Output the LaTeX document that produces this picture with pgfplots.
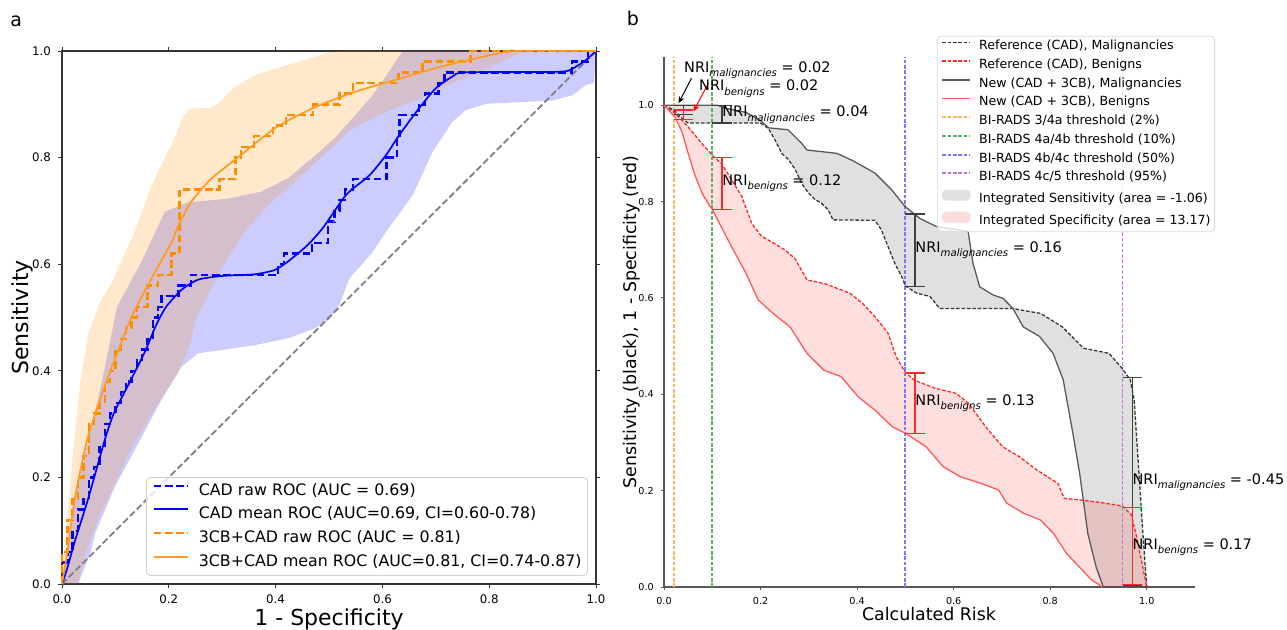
\documentclass[border=0pt]{standalone}
\usepackage{fontspec}
\setmainfont{DejaVu Sans}
\usepackage{pgfplots}
\pgfplotsset{compat=1.18}
\usepgfplotslibrary{fillbetween}
\usetikzlibrary{arrows.meta}

\definecolor{cadblue}{RGB}{0,0,255}
\definecolor{cadmean}{RGB}{0,0,255}
\definecolor{cborange}{RGB}{255,140,0}
\definecolor{cbmean}{RGB}{255,155,35}
\definecolor{diag}{RGB}{128,128,128}
\definecolor{refm}{RGB}{55,55,55}
\definecolor{newm}{RGB}{90,90,90}
\definecolor{refb}{RGB}{255,40,40}
\definecolor{newb}{RGB}{255,90,90}
\definecolor{thA}{RGB}{255,180,95}
\definecolor{thB}{RGB}{90,180,90}
\definecolor{thC}{RGB}{120,120,255}
\definecolor{thD}{RGB}{190,120,212}
\definecolor{pinkpatch}{RGB}{255,220,220}

\newcommand\nri[2]{NRI\raisebox{-0.3em}{\fontsize{5.1}{6}\selectfont\itshape #1} = #2}

\begin{document}
\begin{tikzpicture}

% ---------------- panel a ----------------
\begin{axis}[
  at={(31pt,22.5pt)}, anchor=south west,
  width=267pt, height=266.5pt, scale only axis,
  xmin=0, xmax=1, ymin=0, ymax=1,
  xtick={0,0.2,0.4,0.6,0.8,1}, ytick={0,0.2,0.4,0.6,0.8,1},
  tick align=outside, major tick length=2pt,
  tick style={black!80, line width=0.5pt},
  axis line style={black!80, line width=0.6pt},
  tick label style={font=\fontsize{5.9}{6.5}\selectfont},
  /pgf/number format/fixed, /pgf/number format/fixed zerofill,
  /pgf/number format/precision=1, /pgf/number format/assume math mode=true,
  set layers, clip=false,
  legend cell align=left,
  legend image code/.code={\draw[#1] (0pt,2.7pt) -- (17pt,2.7pt);},
  legend style={at={(0.985,0.015)}, anchor=south east,
    font=\fontsize{7.9}{9}\selectfont, draw=black!18, rounded corners=2pt,
    fill=white, fill opacity=0.8, draw opacity=1, text opacity=1,
    inner xsep=3pt, inner ysep=2.8pt, row sep=3.8pt, column sep=5pt,
    nodes={inner sep=0pt, text height=6pt, text depth=2pt}},
]
% CI bands
\addplot[draw=none, name path=bu, forget plot] coordinates {
(0,0) (0.006,0.045) (0.024,0.157) (0.049,0.27) (0.074,0.377) (0.093,0.47)
(0.103,0.52) (0.149,0.605) (0.1925,0.6985) (0.236,0.716) (0.311,0.723)
(0.373,0.736) (0.423,0.761) (0.467,0.798) (0.51,0.836) (0.545,0.875)
(0.58,0.915) (0.61,0.958) (0.638,1.0) (1,1)};
\addplot[draw=none, name path=bl, forget plot] coordinates {
(0,0) (0.03,0) (0.054,0.06) (0.062,0.095) (0.099,0.1825) (0.143,0.264)
(0.186,0.345) (0.224,0.408) (0.255,0.433) (0.2985,0.439) (0.361,0.448)
(0.423,0.461) (0.47,0.478) (0.50,0.495) (0.52,0.525) (0.538,0.573)
(0.582,0.623) (0.607,0.661) (0.657,0.73) (0.694,0.811) (0.731,0.867)
(0.756,0.889) (0.794,0.901) (0.918,0.907) (0.956,0.917) (0.981,0.936)
(0.996,0.94) (1,1)};
\addplot[fill=cadblue, fill opacity=0.2, draw=none, forget plot] fill between[of=bu and bl];
\addplot[draw=none, name path=ou, forget plot] coordinates {
(0,0) (0.003,0.05) (0.012,0.145) (0.021,0.25) (0.034,0.377) (0.049,0.47)
(0.072,0.53) (0.093,0.565) (0.136,0.661) (0.168,0.749) (0.205,0.824)
(0.227,0.877) (0.239,0.892) (0.277,0.893) (0.292,0.901) (0.323,0.932)
(0.361,0.955) (0.423,0.974) (0.473,0.989) (0.504,0.998) (0.52,1.0) (1,1)};
\addplot[draw=none, name path=ol, forget plot] coordinates {
(0,0) (0.03,0) (0.045,0.06) (0.069,0.126) (0.1,0.19) (0.128,0.251)
(0.172,0.326) (0.217,0.395) (0.24,0.45) (0.252,0.50) (0.2985,0.592)
(0.342,0.661) (0.392,0.717) (0.4355,0.754) (0.482,0.797) (0.5445,0.855)
(0.607,0.886) (0.669,0.91) (0.731,0.94) (0.794,0.965) (0.856,0.995)
(0.87,1) (1,1)};
\addplot[fill=cborange, fill opacity=0.2, draw=none, forget plot] fill between[of=ou and ol];
% chance line
\addplot[diag, line width=0.9pt, dash pattern=on 3.3pt off 1.5pt, forget plot]
  coordinates {(0,0) (1,1)};
% CAD raw ROC
\addplot[cadblue, line width=1.2pt, dash pattern=on 3.8pt off 1.8pt, forget plot] coordinates {
(0,0) (0,0.04) (0.01,0.04) (0.01,0.06) (0.02,0.06) (0.02,0.10) (0.03,0.10)
(0.03,0.14) (0.04,0.14) (0.04,0.16) (0.05,0.16) (0.05,0.20) (0.06,0.20)
(0.06,0.22) (0.07,0.22) (0.07,0.26) (0.08,0.26) (0.08,0.30) (0.09,0.30)
(0.09,0.32) (0.10,0.32) (0.10,0.34) (0.11,0.34) (0.11,0.36) (0.12,0.36)
(0.12,0.38) (0.13,0.38) (0.13,0.40) (0.14,0.40) (0.14,0.42) (0.15,0.42)
(0.15,0.44) (0.16,0.44) (0.16,0.46) (0.17,0.46) (0.17,0.50) (0.18,0.50)
(0.18,0.52) (0.186,0.52) (0.186,0.54) (0.218,0.54) (0.218,0.56) (0.242,0.56)
(0.242,0.58) (0.405,0.58) (0.405,0.60) (0.416,0.60) (0.416,0.62) (0.468,0.62)
(0.468,0.64) (0.498,0.64) (0.498,0.68) (0.51,0.68) (0.51,0.70) (0.52,0.70)
(0.52,0.72) (0.53,0.72) (0.53,0.74) (0.545,0.74) (0.545,0.76) (0.608,0.76)
(0.608,0.80) (0.627,0.80) (0.627,0.84) (0.632,0.84) (0.632,0.88) (0.668,0.88)
(0.668,0.90) (0.68,0.90) (0.68,0.92) (0.705,0.92) (0.705,0.94) (0.716,0.94)
(0.716,0.96) (0.955,0.96) (0.955,0.98) (0.985,0.98) (0.985,1.0) (1,1)};
% CAD mean ROC
\addplot[cadmean, line width=0.85pt, smooth, tension=0.4, forget plot] coordinates {
(0,0) (0.01,0.03) (0.024,0.08) (0.049,0.16) (0.08,0.27) (0.097,0.32)
(0.125,0.375) (0.155,0.435) (0.176,0.485) (0.195,0.52) (0.224,0.552)
(0.255,0.571) (0.30,0.578) (0.36,0.581) (0.398,0.589) (0.423,0.605)
(0.46,0.636) (0.49,0.67) (0.532,0.73) (0.576,0.767) (0.607,0.805)
(0.632,0.843) (0.669,0.893) (0.70,0.93) (0.731,0.952) (0.756,0.96)
(0.93,0.961) (0.956,0.967) (0.981,0.983) (1,1)};
% 3CB+CAD raw ROC
\addplot[cborange, line width=1.2pt, dash pattern=on 3.8pt off 1.8pt, forget plot] coordinates {
(0,0) (0,0.06) (0.01,0.06) (0.01,0.12) (0.02,0.12) (0.02,0.16) (0.03,0.16)
(0.03,0.20) (0.04,0.20) (0.04,0.24) (0.05,0.24) (0.05,0.30) (0.06,0.30)
(0.06,0.32) (0.07,0.32) (0.07,0.34) (0.08,0.34) (0.08,0.38) (0.09,0.38)
(0.09,0.40) (0.10,0.40) (0.10,0.44) (0.11,0.44) (0.11,0.46) (0.12,0.46)
(0.12,0.48) (0.13,0.48) (0.13,0.50) (0.14,0.50) (0.14,0.52) (0.16,0.52)
(0.16,0.56) (0.18,0.56) (0.18,0.58) (0.205,0.58) (0.205,0.62) (0.22,0.62)
(0.22,0.74) (0.295,0.74) (0.295,0.76) (0.325,0.76) (0.325,0.80) (0.335,0.80)
(0.335,0.82) (0.36,0.82) (0.36,0.84) (0.395,0.84) (0.395,0.86) (0.42,0.86)
(0.42,0.88) (0.47,0.88) (0.47,0.90) (0.52,0.90) (0.52,0.92) (0.545,0.92)
(0.545,0.94) (0.63,0.94) (0.63,0.96) (0.675,0.96) (0.675,0.98) (0.765,0.98)
(0.765,1.0) (1,1)};
% 3CB+CAD mean ROC
\addplot[cbmean, line width=0.85pt, smooth, tension=0.4, forget plot] coordinates {
(0,0) (0.005,0.03) (0.01,0.06) (0.024,0.16) (0.047,0.27) (0.076,0.36)
(0.106,0.44) (0.132,0.505) (0.18,0.596) (0.205,0.64) (0.217,0.67)
(0.24,0.714) (0.277,0.758) (0.329,0.80) (0.403,0.858) (0.477,0.896)
(0.551,0.924) (0.625,0.946) (0.70,0.968) (0.774,0.986) (0.85,1.0) (1,1)};

\addlegendimage{cadblue, line width=1.2pt, dash pattern=on 3.8pt off 1.8pt}
\addlegendentry{CAD raw ROC (AUC = 0.69)}
\addlegendimage{cadmean, line width=1pt}
\addlegendentry{CAD mean ROC (AUC=0.69, CI=0.60-0.78)}
\addlegendimage{cborange, line width=1.2pt, dash pattern=on 3.8pt off 1.8pt}
\addlegendentry{3CB+CAD raw ROC (AUC = 0.81)}
\addlegendimage{cbmean, line width=1pt}
\addlegendentry{3CB+CAD mean ROC (AUC=0.81, CI=0.74-0.87)}
\end{axis}

% ---------------- panel b ----------------
\begin{axis}[
  at={(332pt,21pt)}, anchor=south west,
  width=265.5pt, height=265pt, scale only axis,
  xmin=0, xmax=1.1, ymin=0, ymax=1.1,
  axis lines=left, axis line style={-, black!65, line width=0.6pt},
  xtick={0,0.2,0.4,0.6,0.8,1}, ytick={0,0.2,0.4,0.6,0.8,1},
  tick align=outside, major tick length=1.6pt,
  tick style={black!65, line width=0.5pt},
  tick label style={font=\fontsize{4.8}{5.5}\selectfont},
  /pgf/number format/fixed, /pgf/number format/fixed zerofill,
  /pgf/number format/precision=1, /pgf/number format/assume math mode=true,
  set layers, clip=false,
  legend cell align=left,
  legend image code/.code={\draw[#1] (0pt,2.1pt) -- (14pt,2.1pt);},
  legend style={at={(0.514,1.04)}, anchor=north west,
    font=\fontsize{6.3}{7.5}\selectfont, draw=black!15, rounded corners=2pt,
    fill=white, fill opacity=0.8, draw opacity=1, text opacity=1,
    inner xsep=2pt, inner ysep=2pt, row sep=2.95pt, column sep=4pt,
    nodes={inner sep=0pt, text height=4.8pt, text depth=1.6pt}},
]
% thresholds
\addplot[thA, line width=0.9pt, dash pattern=on 1.8pt off 0.9pt, forget plot] coordinates {(0.02,0) (0.02,1.1)};
\addplot[thB, line width=0.9pt, dash pattern=on 1.8pt off 0.9pt, forget plot] coordinates {(0.10,0) (0.10,1.1)};
\addplot[thC, line width=0.9pt, dash pattern=on 1.8pt off 0.9pt, forget plot] coordinates {(0.50,0) (0.50,1.1)};
\addplot[thD, line width=0.9pt, dash pattern=on 1.8pt off 0.9pt, forget plot] coordinates {(0.95,0) (0.95,1.1)};
% Reference (CAD), malignancies
\addplot[refm, line width=0.65pt, dash pattern=on 1.8pt off 0.9pt, name path=rm, forget plot] coordinates {
(0,1) (0.02,0.99) (0.04,0.97) (0.05,0.963) (0.2,0.963) (0.216,0.952)
(0.23,0.928) (0.244,0.90) (0.258,0.887) (0.272,0.866) (0.285,0.838)
(0.299,0.818) (0.313,0.804) (0.326,0.797) (0.34,0.783) (0.35,0.762)
(0.437,0.761) (0.45,0.742) (0.464,0.707) (0.478,0.672) (0.492,0.645)
(0.5,0.625) (0.523,0.61) (0.551,0.603) (0.571,0.578) (0.723,0.578)
(0.758,0.5715) (0.78,0.568) (0.825,0.54) (0.869,0.4955) (0.922,0.485)
(0.948,0.455) (0.966,0.43) (0.974,0.388) (0.983,0.25) (0.992,0.112) (1.0,0.0)};
% New (CAD + 3CB), malignancies
\addplot[newm, line width=0.65pt, name path=nm, forget plot] coordinates {
(0,1) (0.11,1.0) (0.13,0.993) (0.17,0.985) (0.2,0.968) (0.217,0.953)
(0.257,0.949) (0.285,0.921) (0.296,0.907) (0.323,0.904) (0.358,0.90)
(0.393,0.884) (0.437,0.859) (0.472,0.824) (0.499,0.79) (0.53,0.765)
(0.5646,0.748) (0.63,0.738) (0.64,0.672) (0.654,0.623) (0.682,0.606)
(0.7025,0.599) (0.723,0.578) (0.744,0.54) (0.778,0.52) (0.806,0.485)
(0.827,0.43) (0.847,0.319) (0.861,0.236) (0.878,0.111) (0.895,0.042) (0.91,0.0)};
% Reference (CAD), benigns
\addplot[refb, line width=0.65pt, dash pattern=on 1.8pt off 0.9pt, name path=rb, forget plot] coordinates {
(0,1) (0.023,0.983) (0.05,0.955) (0.078,0.921) (0.102,0.894) (0.119,0.879)
(0.14,0.845) (0.161,0.811) (0.1815,0.755) (0.202,0.728) (0.23,0.712)
(0.25,0.70) (0.271,0.682) (0.2965,0.637) (0.332,0.63) (0.3845,0.61)
(0.411,0.589) (0.437,0.561) (0.446,0.55) (0.464,0.527) (0.481,0.478)
(0.499,0.447) (0.517,0.43) (0.561,0.4125) (0.605,0.402) (0.631,0.381)
(0.666,0.333) (0.7015,0.291) (0.737,0.27) (0.772,0.243) (0.816,0.215)
(0.829,0.184) (0.869,0.18) (0.913,0.174) (0.95,0.168) (0.968,0.15)
(0.979,0.104) (0.99,0.05) (1.0,0)};
% New (CAD + 3CB), benigns
\addplot[newb, line width=0.65pt, name path=nb, forget plot] coordinates {
(0,1) (0.023,0.975) (0.037,0.945) (0.05,0.90) (0.064,0.855) (0.08,0.815)
(0.092,0.795) (0.10,0.784) (0.111,0.762) (0.138,0.71) (0.17,0.651)
(0.195,0.596) (0.2257,0.568) (0.261,0.54) (0.296,0.485) (0.331,0.45)
(0.367,0.4366) (0.402,0.395) (0.437,0.367) (0.4725,0.333) (0.5,0.319)
(0.543,0.291) (0.578,0.25) (0.6135,0.229) (0.657,0.215) (0.693,0.2014)
(0.71,0.174) (0.745,0.153) (0.78,0.139) (0.807,0.111) (0.8335,0.07)
(0.86,0.042) (0.886,0.0145) (0.9085,0)};
\addplot[fill=black, fill opacity=0.12, draw=none, forget plot] fill between[of=rm and nm];
\addplot[fill=red, fill opacity=0.13, draw=none, forget plot] fill between[of=rb and nb];
% NRI bars
\addplot[black!75, line width=0.6pt, unbounded coords=jump, forget plot] coordinates {
(0.02,1.0) (0.06,1.0) (nan,nan) (0.04,1.0) (0.04,0.98) (nan,nan) (0.02,0.98) (0.06,0.98) (nan,nan)
(0.10,1.0) (0.14,1.0) (nan,nan) (0.12,1.0) (0.12,0.963) (nan,nan) (0.10,0.963) (0.14,0.963) (nan,nan)
(0.50,0.774) (0.54,0.774) (nan,nan) (0.52,0.774) (0.52,0.623) (nan,nan) (0.50,0.623) (0.54,0.623) (nan,nan)
(0.95,0.435) (0.99,0.435) (nan,nan) (0.97,0.435) (0.97,0.004) (nan,nan) (0.95,0.004) (0.99,0.004)};
\addplot[refb, line width=0.6pt, unbounded coords=jump, forget plot] coordinates {
(0.02,0.99) (0.06,0.99) (nan,nan) (0.04,0.99) (0.04,0.97) (nan,nan) (0.02,0.97) (0.06,0.97) (nan,nan)
(0.10,0.892) (0.14,0.892) (nan,nan) (0.12,0.892) (0.12,0.784) (nan,nan) (0.10,0.784) (0.14,0.784) (nan,nan)
(0.50,0.444) (0.54,0.444) (nan,nan) (0.52,0.444) (0.52,0.319) (nan,nan) (0.50,0.319) (0.54,0.319) (nan,nan)
(0.95,0.165) (0.99,0.165) (nan,nan) (0.97,0.165) (0.97,0.006) (nan,nan) (0.95,0.006) (0.99,0.006)};
% annotations
\draw[black, line width=0.5pt, -{Stealth[length=3.5pt,width=3pt]}] (axis cs:0.057,1.056) -- (axis cs:0.03,1.004);
\draw[red, line width=0.5pt, -{Stealth[length=3.5pt,width=3pt]}] (axis cs:0.092,1.046) -- (axis cs:0.061,0.987);
\begin{scope}[every node/.style={anchor=west, inner sep=0pt, font=\fontsize{7.25}{8}\selectfont}]
\node at (axis cs:0.041,1.072) {\nri{malignancies}{0.02}};
\node at (axis cs:0.072,1.034) {\nri{benigns}{0.02}};
\node at (axis cs:0.12,0.98) {\nri{malignancies}{0.04}};
\node at (axis cs:0.12,0.838) {\nri{benigns}{0.12}};
\node at (axis cs:0.52,0.6985) {\nri{malignancies}{0.16}};
\node at (axis cs:0.52,0.3815) {\nri{benigns}{0.13}};
\node at (axis cs:0.97,0.2175) {\nri{malignancies}{-0.45}};
\node at (axis cs:0.97,0.0825) {\nri{benigns}{0.17}};
\end{scope}

\addlegendimage{refm, line width=0.75pt, dash pattern=on 1.8pt off 0.9pt}
\addlegendentry{Reference (CAD), Malignancies}
\addlegendimage{refb, line width=0.75pt, dash pattern=on 1.8pt off 0.9pt}
\addlegendentry{Reference (CAD), Benigns}
\addlegendimage{newm, line width=0.75pt}
\addlegendentry{New (CAD + 3CB), Malignancies}
\addlegendimage{newb, line width=0.75pt}
\addlegendentry{New (CAD + 3CB), Benigns}
\addlegendimage{thA, line width=0.9pt, dash pattern=on 1.8pt off 0.9pt}
\addlegendentry{BI-RADS 3/4a threshold (2\%)}
\addlegendimage{thB, line width=0.9pt, dash pattern=on 1.8pt off 0.9pt}
\addlegendentry{BI-RADS 4a/4b threshold (10\%)}
\addlegendimage{thC, line width=0.9pt, dash pattern=on 1.8pt off 0.9pt}
\addlegendentry{BI-RADS 4b/4c threshold (50\%)}
\addlegendimage{thD, line width=0.9pt, dash pattern=on 1.8pt off 0.9pt}
\addlegendentry{BI-RADS 4c/5 threshold (95\%)}
\addlegendimage{legend image code/.code={\fill[black!12, fill opacity=1] (0pt,-0.4pt) rectangle (14pt,4.6pt);}}
\addlegendentry{Integrated Sensitivity (area = -1.06)}
\addlegendimage{legend image code/.code={\fill[pinkpatch, fill opacity=1] (0pt,-0.4pt) rectangle (14pt,4.6pt);}}
\addlegendentry{Integrated Specificity (area = 13.17)}
\end{axis}

% titles and axis labels
\node[anchor=base west, inner sep=0pt, font=\fontsize{9.5}{11}\selectfont] at (5pt,301.5pt) {a};
\node[anchor=base west, inner sep=0pt, font=\fontsize{9.5}{11}\selectfont] at (313.2pt,302pt) {b};
\node[anchor=base, inner sep=0pt, font=\fontsize{11}{13}\selectfont] at (164.5pt,1.6pt) {1 - Specificity};
\node[anchor=base, rotate=90, inner sep=0pt, font=\fontsize{11}{13}\selectfont] at (14pt,155.75pt) {Sensitivity};
\node[anchor=base, inner sep=0pt, font=\fontsize{8.7}{10}\selectfont] at (464.5pt,4.5pt) {Calculated Risk};
\node[anchor=base, rotate=90, inner sep=0pt, font=\fontsize{8.7}{10}\selectfont] at (318pt,153.5pt) {Sensitivity (black), 1 - Specificity (red)};
\pgfresetboundingbox
\useasboundingbox (0,0) rectangle (643.5pt,314.5pt);
\end{tikzpicture}
\end{document}
